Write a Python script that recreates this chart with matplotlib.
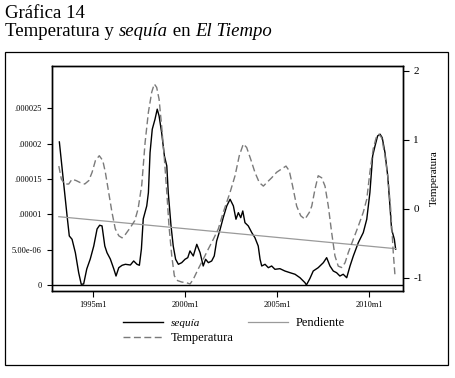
import matplotlib
matplotlib.use('Agg')
import numpy as np
from matplotlib import pyplot as plt
from matplotlib.patches import Rectangle

plt.rcParams['font.family'] = ['Liberation Serif', 'DejaVu Serif']

# sequia (left axis)
seq_years = [1993.17, 1993.40, 1993.59, 1993.71, 1993.86, 1994.04, 1994.22, 1994.36, 1994.49, 1994.66,
             1994.85, 1995.04, 1995.22, 1995.36, 1995.49, 1995.64, 1995.76, 1995.94, 1996.13, 1996.25,
             1996.40, 1996.58, 1996.76, 1997.03, 1997.21, 1997.39, 1997.52, 1997.63, 1997.73, 1997.92,
             1998.01, 1998.10, 1998.22, 1998.37, 1998.49, 1998.59, 1998.73, 1998.88, 1999.01, 1999.09,
             1999.24, 1999.36, 1999.49, 1999.64, 1999.82, 2000.00, 2000.15, 2000.27, 2000.45, 2000.64,
             2000.82, 2000.99, 2001.12, 2001.27, 2001.45, 2001.59, 2001.72, 2001.90, 2002.08, 2002.27,
             2002.45, 2002.63, 2002.77, 2002.90, 2003.03, 2003.14, 2003.26, 2003.44, 2003.63, 2003.80,
             2003.98, 2004.08, 2004.17, 2004.35, 2004.53, 2004.71, 2004.89, 2005.16, 2005.43, 2005.71,
             2005.98, 2006.25, 2006.52, 2006.60, 2006.79, 2006.97, 2007.24, 2007.52, 2007.70, 2007.88,
             2008.06, 2008.24, 2008.42, 2008.60, 2008.79, 2008.97, 2009.15, 2009.42, 2009.69, 2009.88,
             2010.05, 2010.20, 2010.33, 2010.47, 2010.60, 2010.72, 2010.87, 2011.02, 2011.14, 2011.23,
             2011.38, 2011.45]
seq_vals = [20.25, 14.49, 9.77, 6.94, 6.47, 4.57, 1.74, 0.10, 0.14, 2.27,
            3.68, 5.52, 7.93, 8.46, 8.36, 5.52, 4.57, 3.68, 2.27, 1.27,
            2.45, 2.79, 2.93, 2.83, 3.40, 2.93, 2.79, 5.10, 9.35, 11.19,
            13.07, 18.74, 22.05, 23.47, 24.89, 23.94, 21.57, 18.27, 16.86, 13.07,
            8.36, 5.52, 3.64, 2.93, 3.16, 3.64, 3.87, 4.82, 4.11, 5.76,
            4.57, 2.69, 3.64, 3.16, 3.40, 4.11, 6.23, 7.79, 9.56, 11.19,
            12.14, 11.19, 9.31, 10.24, 9.53, 10.48, 8.82, 8.36, 7.41, 6.70,
            5.52, 3.64, 2.69, 2.93, 2.45, 2.69, 2.22, 2.31, 1.98, 1.74,
            1.52, 1.03, 0.33, 0.0, 0.92, 1.98, 2.45, 3.16, 3.87, 2.69,
            1.98, 1.74, 1.27, 1.52, 1.03, 2.69, 4.11, 5.99, 7.41, 9.31,
            13.07, 18.27, 19.69, 21.10, 21.35, 20.86, 18.74, 15.44, 11.19, 7.89,
            6.47, 5.06]

# Temperatura (right axis)
tmp_years = [1993.14, 1993.28, 1993.46, 1993.68, 1993.86, 1994.08, 1994.31, 1994.55, 1994.77, 1994.95,
             1995.13, 1995.34, 1995.53, 1995.67, 1995.85, 1996.03, 1996.21, 1996.40, 1996.58, 1996.76,
             1997.03, 1997.27, 1997.45, 1997.65, 1997.83, 1998.01, 1998.19, 1998.33, 1998.46, 1998.59,
             1998.73, 1998.88, 1999.01, 1999.13, 1999.28, 1999.42, 1999.60, 1999.82, 2000.09, 2000.27,
             2000.45, 2000.72, 2000.99, 2001.27, 2001.54, 2001.81, 2002.08, 2002.45, 2002.72, 2002.95,
             2003.17, 2003.35, 2003.57, 2003.80, 2004.04, 2004.26, 2004.44, 2004.71, 2004.98, 2005.26,
             2005.49, 2005.67, 2005.85, 2006.07, 2006.29, 2006.52, 2006.76, 2006.89, 2007.07, 2007.24,
             2007.43, 2007.61, 2007.79, 2007.97, 2008.15, 2008.33, 2008.52, 2008.70, 2008.88, 2009.15,
             2009.42, 2009.69, 2009.88, 2010.05, 2010.23, 2010.42, 2010.54, 2010.69, 2010.87, 2011.04,
             2011.18, 2011.32, 2011.41]
tmp_vals = [0.62, 0.43, 0.36, 0.36, 0.43, 0.41, 0.38, 0.36, 0.41, 0.53,
            0.70, 0.77, 0.70, 0.53, 0.24, -0.05, -0.29, -0.39, -0.42, -0.37,
            -0.27, -0.17, 0.00, 0.35, 0.96, 1.40, 1.69, 1.81, 1.76, 1.59,
            1.20, 0.72, 0.24, -0.25, -0.68, -0.97, -1.04, -1.06, -1.07, -1.09,
            -1.02, -0.87, -0.73, -0.58, -0.44, -0.29, -0.05, 0.24, 0.48, 0.77,
            0.94, 0.89, 0.72, 0.53, 0.38, 0.33, 0.38, 0.45, 0.53, 0.58,
            0.62, 0.55, 0.33, 0.04, -0.10, -0.15, -0.05, 0.04, 0.29, 0.48,
            0.45, 0.33, 0.04, -0.34, -0.68, -0.83, -0.85, -0.78, -0.63, -0.44,
            -0.25, -0.05, 0.14, 0.53, 0.87, 1.06, 1.08, 1.03, 0.77, 0.43,
            0.00, -0.63, -0.95]

# Pendiente (linear trend of sequia)
trend_years = [1993.14, 2011.45]
trend_vals = [9.67, 5.14]

xtick_years = [1995, 2000, 2005, 2010]
xtick_labels = ['1995m1', '2000m1', '2005m1', '2010m1']
ytick_vals = [0, 5e-6, 1e-5, 1.5e-5, 2e-5, 2.5e-5]
ytick_labels = ['0', '5.00e-06', '.00001', '.000015', '.00002', '.000025']
y2tick_vals = [-1, 0, 1, 2]

W, H = 456, 378
fig = plt.figure(figsize=(W / 100, H / 100), dpi=100)
fig.patch.set_facecolor('white')

# outer frame
fig.patches.append(Rectangle((5 / W, 1 - 365 / H), 443 / W, 313 / H, transform=fig.transFigure,
                             fill=False, edgecolor='black', linewidth=0.9))

ax = fig.add_axes([52 / W, 1 - 291 / H, 351 / W, 225 / H])
ax2 = ax.twinx()

seq = np.array(seq_vals) * 1e-6
trend = np.array(trend_vals) * 1e-6

ax.axhline(0, color='black', linewidth=1.0)
l_seq, = ax.plot(seq_years, seq, color='black', linewidth=1.0)
l_trend, = ax.plot(trend_years, trend, color='#9a9a9a', linewidth=0.9)
l_tmp, = ax2.plot(tmp_years, tmp_vals, color='#7a7a7a', linewidth=1.0, dashes=(5, 2.5))

ax.set_xlim(1992.77, 2011.85)
ax.set_ylim(-0.85e-6, 31.0e-6)
ax2.set_ylim(-1.19, 2.07)

ax.set_xticks(xtick_years)
ax.set_xticklabels(xtick_labels, fontsize=6)
ax.set_yticks(ytick_vals)
ax.set_yticklabels(ytick_labels, fontsize=6)
ax2.set_yticks(y2tick_vals)
ax2.set_yticklabels([str(v) for v in y2tick_vals], fontsize=8)
ax.tick_params(axis='x', length=4, width=0.8, pad=3)
ax.tick_params(axis='y', length=3.5, width=0.8, pad=4)
ax2.tick_params(axis='y', length=4.5, width=0.8, pad=3)
ax2.set_ylabel('Temperatura', fontsize=8, labelpad=5)

for a in (ax, ax2):
    for s in a.spines.values():
        s.set_linewidth(1.0)

# legend
leg = fig.legend([l_seq, l_tmp, l_trend], ['sequía', 'Temperatura', 'Pendiente'],
                 ncol=2, loc='upper left', bbox_to_anchor=(123 / W, 1 - 317 / H),
                 frameon=False, fontsize=9, handlelength=3.2, handletextpad=0.6,
                 columnspacing=1.2, labelspacing=0.35, borderpad=0, borderaxespad=0)
leg.get_texts()[0].set_style('italic')
leg.get_texts()[0].set_fontsize(8)

# title, with italic pieces
fig.text(5 / W, 1 - 5 / H, 'Gráfica 14', fontsize=13.5, va='top', ha='left')
renderer = fig.canvas.get_renderer()
x = 5 / W
for piece, style in [('Temperatura y ', 'normal'), ('sequía', 'italic'), (' en ', 'normal'),
                     ('El Tiempo', 'italic')]:
    t = fig.text(x, 1 - 23 / H, piece, fontsize=13.5, va='top', ha='left', style=style)
    bb = t.get_window_extent(renderer)
    x += bb.width / W

fig.savefig('out.png', dpi=100)
